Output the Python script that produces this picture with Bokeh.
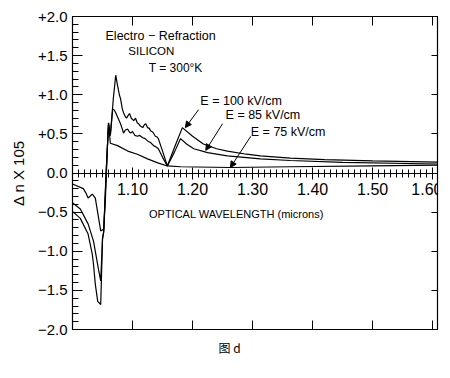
from bokeh.plotting import figure
from bokeh.models import LinearAxis, FixedTicker, Label, Arrow, NormalHead, Range1d, Title
from bokeh.embed import file_html
from bokeh.resources import INLINE

# ---- data (wavelength in microns, delta n x 1e5) ----
wl_100 = [1.000, 1.013, 1.026, 1.033, 1.035, 1.038, 1.042, 1.047, 1.050, 1.052, 1.056, 1.060,
          1.063, 1.068, 1.072, 1.075, 1.078, 1.080, 1.083, 1.085, 1.088, 1.090, 1.093, 1.095,
          1.098, 1.102, 1.105, 1.108, 1.110, 1.113, 1.117, 1.120, 1.122, 1.125, 1.128, 1.130,
          1.134, 1.138, 1.141, 1.143, 1.150, 1.158, 1.170, 1.183, 1.200, 1.218, 1.240, 1.258,
          1.290, 1.313, 1.363, 1.420, 1.500, 1.608]
dn_100 = [-0.49, -0.58, -0.78, -1.04, -1.17, -1.42, -1.64, -1.68, -0.85, -0.75, 0.00, 0.64,
          0.48, 0.95, 1.25, 1.12, 1.00, 0.95, 0.82, 0.77, 0.72, 0.70, 0.74, 0.76,
          0.70, 0.67, 0.70, 0.64, 0.63, 0.60, 0.58, 0.62, 0.63, 0.58, 0.57, 0.54,
          0.52, 0.47, 0.46, 0.44, 0.28, 0.09, 0.33, 0.58, 0.47, 0.37, 0.31, 0.28,
          0.24, 0.22, 0.19, 0.17, 0.155, 0.14]

wl_85 = [1.000, 1.013, 1.026, 1.035, 1.043, 1.047, 1.050, 1.052, 1.056, 1.060, 1.063, 1.067,
         1.070, 1.072, 1.076, 1.080, 1.083, 1.085, 1.088, 1.092, 1.095, 1.097, 1.100, 1.104,
         1.108, 1.112, 1.117, 1.121, 1.125, 1.130, 1.135, 1.140, 1.143, 1.150, 1.158,
         1.170, 1.180, 1.190, 1.202, 1.225, 1.258, 1.313, 1.363, 1.450, 1.608]
dn_85 = [-0.38, -0.46, -0.65, -0.87, -1.22, -1.38, -0.83, -0.75, 0.00, 0.62, 0.48, 0.82,
         0.80, 0.77, 0.70, 0.63, 0.56, 0.51, 0.55, 0.56, 0.52, 0.51, 0.53, 0.48,
         0.47, 0.48, 0.45, 0.44, 0.41, 0.39, 0.35, 0.33, 0.31, 0.20, 0.09,
         0.27, 0.44, 0.37, 0.31, 0.26, 0.22, 0.18, 0.16, 0.135, 0.115]

wl_75 = [1.000, 1.018, 1.022, 1.026, 1.033, 1.038, 1.047, 1.052, 1.055, 1.058, 1.060, 1.063,
         1.075, 1.092, 1.108, 1.125, 1.142, 1.158, 1.180, 1.263, 1.363, 1.500, 1.608]
dn_75 = [-0.14, -0.20, -0.25, -0.32, -0.27, -0.32, -0.74, -0.72, -0.30, 0.30, 0.64, 0.38,
         0.35, 0.28, 0.24, 0.18, 0.13, 0.09, 0.08, 0.07, 0.08, 0.09, 0.10]

x_ticks = [1.0, 1.1, 1.2, 1.3, 1.4, 1.5, 1.6]
x_tick_labels = ["", "1.10", "1.20", "1.30", "1.40", "1.50", "1.60"]
y_ticks = [-2.0, -1.5, -1.0, -0.5, 0.0, 0.5, 1.0, 1.5, 2.0]
y_tick_labels = ["\u22122.0", "\u22121.5", "\u22121.0", "\u22120.5", "0.0", "+0.5", "+1.0", "+1.5", "+2.0"]

x_minor = [round(1.0 + 0.01 * i, 2) for i in range(61)]
y_minor = [round(-2.0 + 0.1 * i, 1) for i in range(41)]

FONT = "Liberation Sans"

p = figure(frame_width=365, frame_height=313, output_backend="svg", toolbar_location=None,
           x_range=Range1d(1.0, 1.608), y_range=Range1d(-2.0, 2.0),
           min_border_left=72, min_border_right=5, min_border_top=16, min_border_bottom=46,
           background_fill_color="white", border_fill_color="white")
p.outline_line_color = "black"
p.outline_line_width = 1.2
p.xgrid.grid_line_color = None
p.ygrid.grid_line_color = None

blank_x = {t: "" for t in x_ticks}
blank_y = {t: "" for t in y_ticks}

# bottom frame axis: ticks only
bx = p.xaxis[0]
bx.ticker = FixedTicker(ticks=x_ticks)
bx.major_tick_in = 9
bx.major_tick_out = 0
bx.minor_tick_line_color = None
bx.major_label_overrides = blank_x
bx.major_label_standoff = 5
bx.axis_line_color = "black"
bx.major_tick_line_color = "black"

# top frame axis
tx = LinearAxis(ticker=FixedTicker(ticks=x_ticks), major_tick_in=9, major_tick_out=0,
                minor_tick_line_color=None, major_label_overrides=blank_x, major_label_standoff=0)
p.add_layout(tx, "above")

# right frame axis
ry = LinearAxis(ticker=FixedTicker(ticks=y_ticks), major_tick_in=6, major_tick_out=0,
                minor_tick_line_color=None, major_label_overrides=blank_y, major_label_standoff=0)
p.add_layout(ry, "right")

# left axis with labels
ly = p.yaxis[0]
ly.ticker = FixedTicker(ticks=y_ticks, minor_ticks=y_minor)
ly.major_tick_in = 10
ly.major_tick_out = 0
ly.minor_tick_in = 6
ly.minor_tick_out = 0
ly.major_label_overrides = {t: s for t, s in zip(y_ticks, y_tick_labels)}
ly.major_label_text_font = FONT
ly.major_label_text_font_size = "15px"
ly.major_label_text_color = "black"
ly.major_label_standoff = 5

# zero axis with wavelength labels
zx = LinearAxis(fixed_location=0, ticker=FixedTicker(ticks=x_ticks, minor_ticks=x_minor),
                major_tick_in=6, major_tick_out=6, minor_tick_in=4, minor_tick_out=4,
                major_label_overrides={t: s for t, s in zip(x_ticks, x_tick_labels)},
                major_label_text_font=FONT, major_label_text_font_size="16px",
                major_label_text_color="black", major_label_standoff=4)
p.add_layout(zx, "below")

for wl, dn in [(wl_100, dn_100), (wl_85, dn_85), (wl_75, dn_75)]:
    p.line(wl, dn, line_color="black", line_width=1.2)

def lab(x, y, text, size="12.5px", align="left"):
    p.add_layout(Label(x=x, y=y, text=text, text_font=FONT, text_font_size=size,
                       text_align=align, text_baseline="middle", text_color="black"))

lab(1.055, 1.757, "Electro \u2212 Refraction")
lab(1.093, 1.553, "SILICON", size="11.5px")
lab(1.127, 1.348, "T = 300\u00b0K", size="12px")
lab(1.213, 0.914, "E = 100 kV/cm")
lab(1.255, 0.735, "E = 85 kV/cm")
lab(1.297, 0.518, "E = 75 kV/cm")
lab(1.273, -0.53, "OPTICAL WAVELENGTH (microns)", size="11px", align="center")

for xs, ys, xe, ye in [(1.21, 0.81, 1.188, 0.58), (1.25, 0.63, 1.222, 0.29), (1.297, 0.47, 1.263, 0.07)]:
    p.add_layout(Arrow(end=NormalHead(size=6, fill_color="black", line_color="black"),
                       x_start=xs, y_start=ys, x_end=xe, y_end=ye,
                       line_color="black", line_width=1))

ytitle = Title(text="\u0394 n X 105", align="center", offset=12, text_font=FONT,
               text_font_size="15px", text_font_style="normal", text_color="black", standoff=15)
p.add_layout(ytitle, "left")

caption = Title(text="\u56fe d", align="left", offset=146, text_font="Noto Sans CJK SC",
                text_font_size="12px", text_font_style="normal", text_color="black", standoff=15)
p.add_layout(caption, "below")

open("out.html", "w").write(file_html(p, INLINE))
